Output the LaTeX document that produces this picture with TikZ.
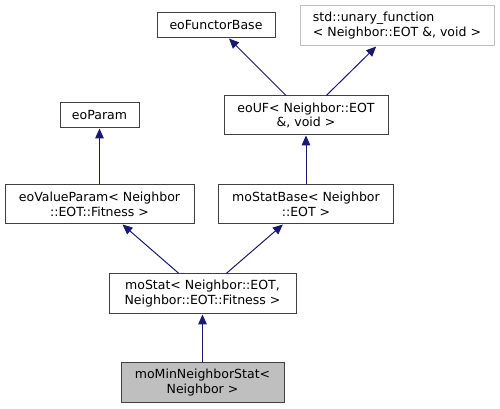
\documentclass[tikz,border=0pt]{standalone}
\usepackage{fontspec}
\setmainfont{DejaVu Sans}
\usepackage{tikz}
\usetikzlibrary{shapes.geometric, arrows.meta}
\definecolor{edgeblue}{HTML}{191970}
\definecolor{boxgray}{HTML}{404040}
\definecolor{lightgray}{HTML}{BFBFBF}
\tikzstyle{classbox} = [rectangle, draw=boxgray, line width=0.75pt, fill=white, inner sep=1pt, align=center, font=\fontsize{9.4}{11.2}\selectfont]
\tikzstyle{extbox} = [classbox, draw=lightgray, align=left]
\tikzstyle{curbox} = [classbox, fill=lightgray]
\tikzstyle{arrow} = [draw=edgeblue, line width=0.75pt, ->, >={Triangle[length=7.5pt,width=6.5pt]}]

\begin{document}
\begin{tikzpicture}[x=0.75pt, y=-0.75pt]
\useasboundingbox (0,0) rectangle (500,409);
% Nodes
\node (functor) [classbox, minimum width=88.5pt, minimum height=18.75pt] at (216,25.5) {eoFunctorBase};
\node (unary) [extbox, minimum width=145.5pt, minimum height=30pt] at (397,26) {std::unary\_function\\< Neighbor::EOT \&, void >};
\node (param) [classbox, minimum width=59.25pt, minimum height=18.75pt] at (99.5,115.5) {eoParam};
\node (uf) [classbox, minimum width=123pt, minimum height=29.25pt] at (306,115.5) {eoUF< Neighbor::EOT\\ \&, void >};
\node (valparam) [classbox, minimum width=141.75pt, minimum height=29.25pt] at (99.5,204.5) {eoValueParam< Neighbor\\::EOT::Fitness >};
\node (statbase) [classbox, minimum width=131.25pt, minimum height=29.25pt] at (306,204.5) {moStatBase< Neighbor\\::EOT >};
\node (stat) [classbox, minimum width=140.25pt, minimum height=30pt] at (202.5,294) {moStat< Neighbor::EOT,\\ Neighbor::EOT::Fitness >};
\node (minstat) [curbox, minimum width=122.25pt, minimum height=30pt] at (202.5,383) {moMinNeighborStat<\\Neighbor >};

% Arrows
\draw [arrow] (uf) -- (functor);
\draw [arrow] (uf) -- (unary);
\draw [arrow] (valparam) -- (param);
\draw [arrow] (statbase) -- (uf);
\draw [arrow] (stat) -- (valparam);
\draw [arrow] (stat) -- (statbase);
\draw [arrow] (minstat) -- (stat);
\end{tikzpicture}
\end{document}
